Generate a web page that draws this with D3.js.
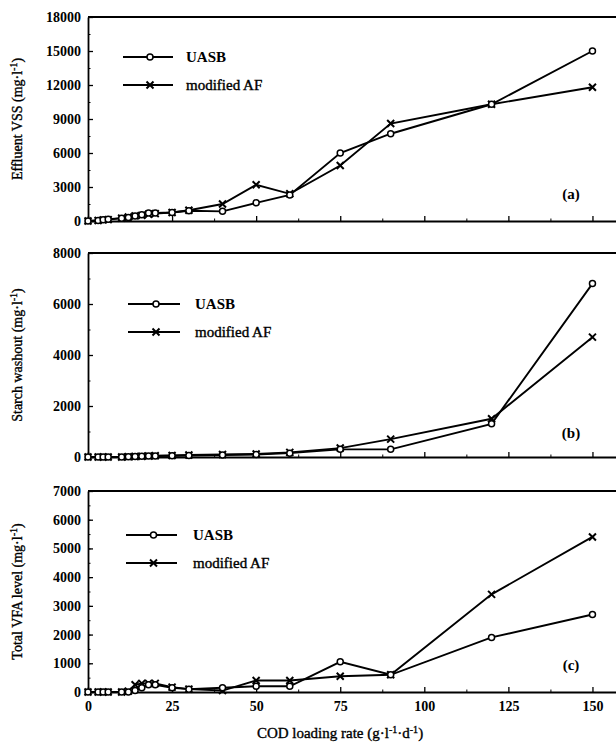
<!DOCTYPE html>
<html>
<head>
<meta charset="utf-8">
<script src="https://cdn.jsdelivr.net/npm/d3@7"></script>
<style>
  body { margin: 0; background: #fff; }
  svg { display: block; }
</style>
</head>
<body>
<div id="chart"></div>
<script>
const loadingRate = [0, 3, 4.5, 6, 10, 12, 14, 16, 18, 20, 25, 30, 40, 50, 60, 75, 90, 120, 150];

const vssUASB = [0, 50, 100, 150, 250, 300, 450, 550, 700, 700, 750, 900, 850, 1600, 2300, 6000, 7700, 10300, 15000];
const vssAF   = [0, 50, 100, 120, 250, 350, 450, 500, 600, 650, 750, 950, 1500, 3200, 2400, 4900, 8600, 10300, 11800];

const starchUASB = [0, 0, 0, 0, 0, 10, 20, 30, 40, 40, 50, 60, 80, 100, 150, 300, 300, 1300, 6800];
const starchAF   = [0, 0, 0, 0, 0, 10, 20, 30, 40, 50, 60, 80, 100, 120, 180, 350, 700, 1500, 4700];

const vfaUASB = [0, 0, 0, 0, 0, 0, 50, 150, 250, 250, 150, 100, 150, 200, 200, 1050, 600, 1900, 2700];
const vfaAF   = [0, 0, 0, 0, 0, 30, 250, 300, 300, 300, 170, 100, 50, 400, 400, 550, 600, 3400, 5400];

const xTicks = [0, 25, 50, 75, 100, 125, 150];
const vssTicks = [0, 3000, 6000, 9000, 12000, 15000, 18000];
const starchTicks = [0, 2000, 4000, 6000, 8000];
const vfaTicks = [0, 1000, 2000, 3000, 4000, 5000, 6000, 7000];

const seriesNames = ['UASB', 'modified AF'];

const width = 616, height = 742;
const serif = '"Liberation Serif", "Times New Roman", serif';

const svg = d3.select('#chart').append('svg')
  .attr('width', width)
  .attr('height', height);

const x = d3.scaleLinear().domain([0, 157]).range([88, 616]);

const panels = [
  { a: vssUASB, b: vssAF, ticks: vssTicks, max: 18000, top: 17, bottom: 221, minor: 1500,
    label: 'Effluent VSS (mg·l', tag: '(a)', tagY: 199, leg: { x0: 123, x1: 173, y: 57, tx: 186 } },
  { a: starchUASB, b: starchAF, ticks: starchTicks, max: 8000, top: 253, bottom: 457, minor: 1000,
    label: 'Starch washout (mg·l', tag: '(b)', tagY: 438, leg: { x0: 128, x1: 180, y: 304, tx: 195 } },
  { a: vfaUASB, b: vfaAF, ticks: vfaTicks, max: 7000, top: 491, bottom: 692, minor: 500,
    label: 'Total VFA level (mg·l', tag: '(c)', tagY: 670, leg: { x0: 126, x1: 177, y: 535, tx: 193 } }
];

function circleMark(g, cx, cy) {
  g.append('circle').attr('cx', cx).attr('cy', cy).attr('r', 3)
    .attr('fill', '#fff').attr('stroke', '#000').attr('stroke-width', 1.5);
}
function crossMark(g, cx, cy) {
  const s = 3.5;
  g.append('path')
    .attr('d', `M${cx - s},${cy - s}L${cx + s},${cy + s}M${cx - s},${cy + s}L${cx + s},${cy - s}`)
    .attr('stroke', '#000').attr('stroke-width', 2);
}

panels.forEach((p, pi) => {
  const y = d3.scaleLinear().domain([0, p.max]).range([p.bottom, p.top]);
  const g = svg.append('g');

  // minor ticks on y
  g.append('g')
    .attr('transform', `translate(${x(0)},0)`)
    .call(d3.axisLeft(y).tickValues(d3.range(0, p.max + 1, p.minor)).tickSize(-2.5).tickSizeOuter(0).tickFormat(''))
    .call(a => a.select('.domain').remove());

  // major y axis
  g.append('g')
    .attr('transform', `translate(${x(0)},0)`)
    .call(d3.axisLeft(y).tickValues(p.ticks).tickSize(-5).tickSizeOuter(0).tickPadding(7).tickFormat(d3.format('d')))
    .call(a => a.select('.domain').attr('stroke-width', 1.8))
    .call(a => a.selectAll('.tick line').attr('stroke-width', 1.3))
    .call(a => a.selectAll('text')
      .attr('font-family', serif).attr('font-weight', 'bold').attr('font-size', 14).attr('fill', '#000'));

  // x minor ticks
  g.append('g')
    .attr('transform', `translate(0,${p.bottom})`)
    .call(d3.axisBottom(x).tickValues(d3.range(12.5, 150, 25)).tickSize(-2.5).tickSizeOuter(0).tickFormat(''))
    .call(a => a.select('.domain').remove());

  // x axis
  const xa = g.append('g')
    .attr('transform', `translate(0,${p.bottom})`)
    .call(d3.axisBottom(x).tickValues(xTicks).tickSize(-5).tickSizeOuter(0).tickPadding(9))
    .call(a => a.select('.domain').attr('stroke-width', 1.8))
    .call(a => a.selectAll('.tick line').attr('stroke-width', 1.3));
  if (pi < 2) {
    xa.selectAll('text').remove();
  } else {
    xa.selectAll('text')
      .attr('font-family', serif).attr('font-weight', 'bold').attr('font-size', 14).attr('fill', '#000');
  }

  // top frame line
  g.append('line')
    .attr('x1', x(0)).attr('x2', width).attr('y1', y(p.max)).attr('y2', y(p.max))
    .attr('stroke', '#000').attr('stroke-width', 1.8);

  // y label
  const lbl = g.append('text')
    .attr('transform', `translate(22,${(p.top + p.bottom) / 2}) rotate(-90)`)
    .attr('text-anchor', 'middle')
    .attr('font-family', serif).attr('font-size', 14)
    .attr('stroke', '#000').attr('stroke-width', 0.35);
  lbl.append('tspan').text(p.label);
  lbl.append('tspan').attr('font-size', 10).attr('dy', -5).text('-1');
  lbl.append('tspan').attr('dy', 5).text(')');

  // series lines
  const line = d3.line().x((d, i) => x(loadingRate[i])).y(d => y(d));
  [p.a, p.b].forEach(vals => {
    g.append('path').datum(vals)
      .attr('d', line)
      .attr('fill', 'none').attr('stroke', '#000').attr('stroke-width', 1.9);
  });
  p.b.forEach((v, i) => crossMark(g, x(loadingRate[i]), y(v)));
  p.a.forEach((v, i) => circleMark(g, x(loadingRate[i]), y(v)));

  // legend
  const L = p.leg;
  seriesNames.forEach((name, si) => {
    const ly = L.y + si * 28;
    g.append('line').attr('x1', L.x0).attr('x2', L.x1).attr('y1', ly).attr('y2', ly)
      .attr('stroke', '#000').attr('stroke-width', 1.9);
    const mx = (L.x0 + L.x1) / 2 + 2;
    if (si === 0) circleMark(g, mx, ly); else crossMark(g, mx, ly);
    g.append('text').attr('x', L.tx).attr('y', ly + 5)
      .attr('font-family', serif).attr('font-size', 15).attr('font-weight', si === 0 ? 'bold' : 'normal')
      .attr('stroke', '#000').attr('stroke-width', si === 0 ? 0 : 0.4)
      .text(name);
  });

  // panel tag
  g.append('text').attr('x', 571).attr('y', p.tagY).attr('text-anchor', 'middle')
    .attr('font-family', serif).attr('font-weight', 'bold').attr('font-size', 15)
    .text(p.tag);
});

// x label
const xl = svg.append('text')
  .attr('x', 340).attr('y', 738).attr('text-anchor', 'middle')
  .attr('font-family', serif).attr('font-size', 15)
  .attr('stroke', '#000').attr('stroke-width', 0.35);
xl.append('tspan').text('COD loading rate (g·l');
xl.append('tspan').attr('font-size', 10).attr('dy', -5).text('-1');
xl.append('tspan').attr('dy', 5).text('·d');
xl.append('tspan').attr('font-size', 10).attr('dy', -5).text('-1');
xl.append('tspan').attr('dy', 5).text(')');
</script>
</body>
</html>
